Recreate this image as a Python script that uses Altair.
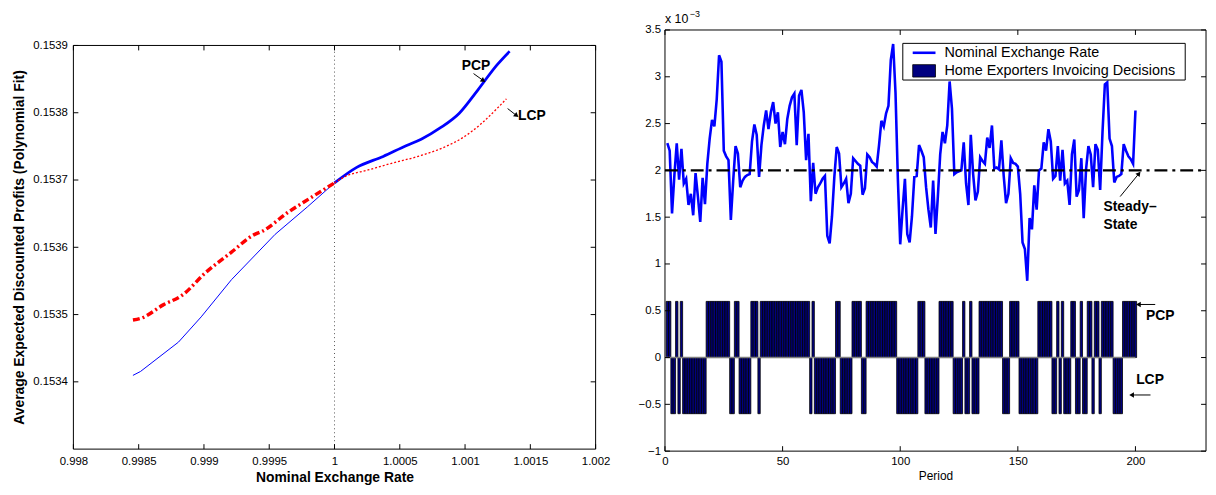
import altair as alt
import pandas as pd

FONT = "Liberation Sans"

# ---------------- Left panel data ----------------
pcp_x = [0.998456, 0.998514, 0.998805, 0.998979, 0.999211, 0.999545, 0.999792, 1.0,
         1.000170, 1.000373, 1.000548, 1.000664, 1.000809, 1.000954, 1.001099, 1.001245, 1.001341]
pcp_y = [0.1534096, 0.1534154, 0.1534591, 0.1534966, 0.1535519, 0.1536192, 0.1536600, 0.1536957,
         0.1537188, 0.1537351, 0.1537510, 0.1537606, 0.1537774, 0.1537990, 0.1538341, 0.1538712, 0.1538913]
lcp_x = [0.998456, 0.998514, 0.998688, 0.998834, 0.999008, 0.999211, 0.999385, 0.999444, 0.999647, 0.999821,
         1.0, 1.000083, 1.000257, 1.000431, 1.000664, 1.000838, 1.000983, 1.001129, 1.001245, 1.001317]
lcp_y = [0.1534918, 0.1534942, 0.1535144, 0.1535288, 0.1535615, 0.1535928, 0.1536188, 0.1536236, 0.1536524,
         0.1536740, 0.1536957, 0.1537053, 0.1537149, 0.1537245, 0.1537365, 0.1537486, 0.1537630, 0.1537846,
         0.1538063, 0.1538207]
lx_ticks = [0.998, 0.9985, 0.999, 0.9995, 1.0, 1.0005, 1.001, 1.0015, 1.002]
ly_ticks = [0.1534, 0.1535, 0.1536, 0.1537, 0.1538, 0.1539]
ly_frame = [0.1533, 0.1539]
parity_rate = 1.0
left_labels = ["PCP", "LCP"]
left_label_x = [1.000975, 1.001405]
left_label_y = [0.1538687, 0.1537957]
left_arrow_x0 = [1.001065, 1.001326]
left_arrow_y0 = [0.1538582, 0.1538062]
left_arrow_x1 = [1.001135, 1.001390]
left_arrow_y1 = [0.1538485, 0.1537965]
left_arrow_angle = [125, 128]

# ---------------- Right panel data ----------------
exchange_rate = [
    2.29, 2.21, 1.54, 1.95, 2.29, 1.90, 2.23, 1.86, 1.91, 1.63,
    1.75, 1.52, 1.97, 1.72, 1.45, 1.92, 1.64, 2.07, 2.34, 2.54,
    2.47, 2.76, 3.23, 3.16, 2.21, 2.15, 2.11, 1.47, 1.89, 2.26,
    2.18, 1.82, 1.89, 1.93, 1.95, 1.96, 2.31, 2.49, 2.38, 1.93,
    2.27, 2.48, 2.64, 2.44, 2.62, 2.73, 2.50, 2.62, 2.25, 2.41,
    2.28, 2.55, 2.69, 2.78, 2.82, 2.27, 2.80, 2.86, 2.62, 2.11,
    2.39, 1.67, 2.08, 1.75, 1.82, 1.86, 1.91, 1.94, 1.30, 1.22,
    1.51, 1.93, 2.25, 2.18, 1.82, 1.86, 1.91, 1.65, 1.75, 2.13,
    2.10, 2.07, 2.05, 1.74, 1.81, 2.17, 2.14, 2.09, 2.07, 2.04,
    2.27, 2.53, 2.47, 2.61, 2.69, 3.18, 3.35, 2.83, 1.91, 1.21,
    1.58, 1.91, 1.32, 1.23, 1.51, 1.93, 1.94, 2.27, 2.21, 2.14,
    1.82, 1.58, 1.39, 1.89, 1.32, 1.72, 2.17, 2.41, 2.29, 2.48,
    2.95, 2.66, 1.96, 1.98, 1.99, 2.00, 2.30, 1.86, 1.63, 2.38,
    1.96, 1.68, 1.77, 2.14, 2.10, 2.07, 2.35, 2.24, 2.48, 2.02,
    2.03, 2.01, 2.32, 1.94, 1.65, 1.75, 2.13, 2.08, 2.07, 2.04,
    1.75, 1.23, 1.16, 0.82, 1.49, 1.37, 1.84, 1.58, 2.00, 2.02,
    2.30, 2.21, 2.44, 2.31, 1.91, 1.94, 2.26, 1.89, 2.22, 1.86,
    1.89, 1.63, 2.17, 2.33, 1.72, 1.79, 2.13, 1.49, 2.01, 2.26,
    2.17, 1.82, 2.28, 2.22, 1.79, 2.41, 2.92, 2.94, 2.34, 2.26,
    1.87, 1.93, 1.94, 1.96, 2.28, 2.21, 2.15, 2.12, 2.07, 2.64,
]
# P = producer currency pricing (PCP), L = local currency pricing (LCP), periods 1..200
invoicing = (
    "PPLLPLPLLL" "LLLLLLLPPP" "PPPPPPPLLP" "PLLLLLPPPL" "PPPPPPPPPP"
    "PPPPPPPPPP" "PLPLLLLLLL" "LLPPLLLLLP" "PPPLLPPPPP" "PPPPPPPPLL"
    "LLLLLLLPPP" "LLLLLLPPPP" "PPLLLLPLLP" "LLLPPPPPPP" "PPPLLLPPPP"
    "LLLLLLLLPP" "PPPPLLPLPL" "LLPPLLPLLP" "PLPPLPPPPP" "LLLLPPPPPP"
)
bar_height = {"P": 0.6, "L": -0.6}
periods = list(range(1, len(exchange_rate) + 1))
steady_state = 2.0
rx_ticks = [0, 50, 100, 150, 200]
rx_frame = [0, 230]
ry_ticks = [-1, -0.5, 0, 0.5, 1, 1.5, 2, 2.5, 3, 3.5]
right_labels = ["Steady\u2013", "State", "PCP", "LCP"]
right_label_x = [186.4, 186.4, 204.5, 200.3]
right_label_y = [1.61, 1.42, 0.44, -0.24]
right_arrow_x0 = [193.5, 208.4, 206.4]
right_arrow_y0 = [1.72, 0.567, -0.40]
right_arrow_x1 = [201.3, 201.6, 198.7]
right_arrow_y1 = [1.96, 0.567, -0.40]
right_arrow_angle = [39, 270, 270]
legend_labels = ["Nominal Exchange Rate", "Home Exporters Invoicing Decisions"]

W1, W2, H = 527, 546, 425

# ================= LEFT PANEL =================
lx = alt.Scale(domain=[0.998, 1.002], nice=False, zero=False)
ly = alt.Scale(domain=[0.153297, 0.153923], nice=False, zero=False)
tlx = 5 / W1 * 0.004
tly = 5 / H * (0.153923 - 0.153297)

ax_lx = alt.Axis(values=lx_ticks, labelExpr="format(datum.value, '.5~g')",
                 title="Nominal Exchange Rate", domain=False, ticks=False, grid=False,
                 labelFlush=False, labelOverlap=False, labelFontSize=11.5, labelPadding=4,
                 labelColor="black", titleColor="black", titleFontSize=14,
                 titleFontWeight="bold", titlePadding=4, labelFont=FONT, titleFont=FONT)
ax_ly = alt.Axis(values=ly_ticks, labelExpr="format(datum.value, '.4f')",
                 title="Average Expected Discounted Profits (Polynomial Fit)",
                 domain=False, ticks=False, grid=False, labelOverlap=False,
                 labelFontSize=11.5, labelPadding=6, labelColor="black", titleColor="black",
                 titleFontSize=14, titleFontWeight="bold", titlePadding=6, titleY=219,
                 labelFont=FONT, titleFont=FONT)


def LX(f):
    return alt.X(f, scale=lx, axis=ax_lx)


def LY(f):
    return alt.Y(f, scale=ly, axis=ax_ly)


frame_l = alt.Chart(pd.DataFrame({"x": [lx_ticks[0]], "x2": [lx_ticks[-1]],
                                  "y": [ly_frame[0]], "y2": [ly_frame[1]]})).mark_rect(
    filled=False, stroke="black", strokeWidth=1).encode(
    x=LX("x:Q"), x2="x2:Q", y=LY("y:Q"), y2="y2:Q")

ticks_l_rows = []
for v in lx_ticks:
    ticks_l_rows.append({"x": v, "x2": v, "y": ly_frame[0], "y2": ly_frame[0] + tly})
    ticks_l_rows.append({"x": v, "x2": v, "y": ly_frame[1], "y2": ly_frame[1] - tly})
for v in ly_ticks:
    ticks_l_rows.append({"x": lx_ticks[0], "x2": lx_ticks[0] + tlx, "y": v, "y2": v})
    ticks_l_rows.append({"x": lx_ticks[-1], "x2": lx_ticks[-1] - tlx, "y": v, "y2": v})
ticks_l = alt.Chart(pd.DataFrame(ticks_l_rows)).mark_rule(color="black", strokeWidth=1).encode(
    x=LX("x:Q"), x2="x2:Q", y=LY("y:Q"), y2="y2:Q")

parity = alt.Chart(pd.DataFrame({"x": [parity_rate], "y": [ly_frame[0]], "y2": [ly_frame[1]]})).mark_rule(
    color="#555555", strokeWidth=1, strokeDash=[1, 3]).encode(
    x=LX("x:Q"), y=LY("y:Q"), y2="y2:Q")

pcp_df = pd.DataFrame({"x": pcp_x, "y": pcp_y})
lcp_df = pd.DataFrame({"x": lcp_x, "y": lcp_y})


def curve(df, cond, **style):
    return alt.Chart(df).transform_filter(cond).mark_line(**style).encode(
        x=LX("x:Q"), y=LY("y:Q"))


blue_thin = curve(pcp_df, "datum.x <= 1", color="#0000ff", strokeWidth=1)
blue_thick = curve(pcp_df, "datum.x >= 1", color="#0000ff", strokeWidth=2.8, interpolate="monotone")
red_thick = curve(lcp_df, "datum.x <= 1", color="#ff0000", strokeWidth=3.5, strokeDash=[7, 3, 2, 3],
                  interpolate="monotone")
red_thin = curve(lcp_df, "datum.x >= 1", color="#ff0000", strokeWidth=1.3, strokeDash=[2, 2],
                 interpolate="monotone")

l_text = alt.Chart(pd.DataFrame({"t": left_labels, "x": left_label_x, "y": left_label_y})).mark_text(
    font=FONT, fontSize=14, fontWeight="bold", align="left", baseline="middle", color="black").encode(
    x=LX("x:Q"), y=LY("y:Q"), text="t:N")
l_arr_df = pd.DataFrame({"x": left_arrow_x0, "y": left_arrow_y0, "x2": left_arrow_x1,
                         "y2": left_arrow_y1, "a": left_arrow_angle})
l_arr = alt.Chart(l_arr_df).mark_rule(color="black", strokeWidth=1).encode(
    x=LX("x:Q"), y=LY("y:Q"), x2="x2:Q", y2="y2:Q")
l_head = alt.Chart(l_arr_df).mark_point(shape="triangle", filled=True, size=30, color="black",
                                        opacity=1).encode(
    x=LX("x2:Q"), y=LY("y2:Q"), angle=alt.Angle("a:Q", scale=None))

left = alt.layer(frame_l, parity, blue_thin, blue_thick, red_thick, red_thin, ticks_l,
                 l_arr, l_head, l_text).properties(width=W1, height=H)

# ================= RIGHT PANEL =================
rx = alt.Scale(domain=rx_frame, nice=False, zero=False)
ry = alt.Scale(domain=[ry_ticks[0], ry_ticks[-1]], nice=False, zero=False)
trx = 5 / W2 * (rx_frame[1] - rx_frame[0])
try_ = 5 / H * (ry_ticks[-1] - ry_ticks[0])

ax_rx = alt.Axis(values=rx_ticks, format="d", title="Period", domain=False, ticks=False,
                 grid=False, labelFlush=False, labelOverlap=False, labelFontSize=11.5,
                 labelPadding=4, labelColor="black", titleColor="black", titleFontSize=12,
                 titleFontWeight="normal", titlePadding=4, labelFont=FONT, titleFont=FONT)
ax_ry = alt.Axis(values=ry_ticks, labelExpr="format(datum.value, '~g')", title="",
                 domain=False, ticks=False, grid=False, labelOverlap=False, labelFontSize=11.5,
                 labelPadding=4.5, labelColor="black", labelFont=FONT)


def RX(f):
    return alt.X(f, scale=rx, axis=ax_rx)


def RY(f):
    return alt.Y(f, scale=ry, axis=ax_ry)


frame_r = alt.Chart(pd.DataFrame({"x": [rx_frame[0]], "x2": [rx_frame[1]],
                                  "y": [ry_ticks[0]], "y2": [ry_ticks[-1]]})).mark_rect(
    filled=False, stroke="black", strokeWidth=1).encode(
    x=RX("x:Q"), x2="x2:Q", y=RY("y:Q"), y2="y2:Q")

ticks_r_rows = []
for v in rx_ticks:
    ticks_r_rows.append({"x": v, "x2": v, "y": ry_ticks[0], "y2": ry_ticks[0] + try_})
    ticks_r_rows.append({"x": v, "x2": v, "y": ry_ticks[-1], "y2": ry_ticks[-1] - try_})
for v in ry_ticks:
    ticks_r_rows.append({"x": rx_frame[0], "x2": rx_frame[0] + trx, "y": v, "y2": v})
    ticks_r_rows.append({"x": rx_frame[1], "x2": rx_frame[1] - trx, "y": v, "y2": v})
ticks_r = alt.Chart(pd.DataFrame(ticks_r_rows)).mark_rule(color="black", strokeWidth=1).encode(
    x=RX("x:Q"), x2="x2:Q", y=RY("y:Q"), y2="y2:Q")

bars_df = pd.DataFrame({"period": periods,
                        "v": [bar_height[c] for c in invoicing]})
bars = alt.Chart(bars_df).transform_calculate(
    x0="datum.period - 0.5", x1="datum.period + 0.5").mark_rect(
    fill="#000080", stroke="black", strokeWidth=0.8).encode(
    x=RX("x0:Q"), x2="x1:Q", y=RY("v:Q"), y2=alt.datum(0))

baseline = alt.Chart(pd.DataFrame({"x": [rx_frame[0]], "x2": [periods[-1]], "y": [0]})).mark_rule(
    color="#7f7f7f", strokeWidth=1.5).encode(
    x=RX("x:Q"), x2="x2:Q", y=RY("y:Q"))

line_df = pd.DataFrame({"period": periods, "rate": exchange_rate})
rate_line = alt.Chart(line_df).mark_line(color="#0000ff", strokeWidth=2.6).encode(
    x=RX("period:Q"), y=RY("rate:Q"))

ss = alt.Chart(pd.DataFrame({"x": [rx_frame[0]], "x2": [rx_frame[1]], "y": [steady_state]})).mark_rule(
    color="black", strokeWidth=2.5, strokeDash=[13, 5, 3, 5]).encode(
    x=RX("x:Q"), x2="x2:Q", y=RY("y:Q"))

r_text = alt.Chart(pd.DataFrame({"t": right_labels, "x": right_label_x, "y": right_label_y})).mark_text(
    font=FONT, fontSize=14, fontWeight="bold", align="left", baseline="middle", color="black").encode(
    x=RX("x:Q"), y=RY("y:Q"), text="t:N")
r_arr_df = pd.DataFrame({"x": right_arrow_x0, "y": right_arrow_y0, "x2": right_arrow_x1,
                         "y2": right_arrow_y1, "a": right_arrow_angle})
r_arr = alt.Chart(r_arr_df).mark_rule(color="black", strokeWidth=1).encode(
    x=RX("x:Q"), y=RY("y:Q"), x2="x2:Q", y2="y2:Q")
r_head = alt.Chart(r_arr_df).mark_point(shape="triangle", filled=True, size=30, color="black",
                                        opacity=1).encode(
    x=RX("x2:Q"), y=RY("y2:Q"), angle=alt.Angle("a:Q", scale=None))

# exponent label "x 10^-3"
exp_base = alt.Chart(pd.DataFrame({"t": ["x 10"]})).mark_text(
    font=FONT, fontSize=12.5, align="left", baseline="middle", color="black").encode(
    x=alt.value(0), y=alt.value(-11), text="t:N")
exp_sup = alt.Chart(pd.DataFrame({"t": ["\u22123"]})).mark_text(
    font=FONT, fontSize=9, align="left", baseline="middle", color="black").encode(
    x=alt.value(25), y=alt.value(-16), text="t:N")

# legend box
leg_box = alt.Chart(pd.DataFrame({"k": [0]})).mark_rect(fill="white", stroke="black", strokeWidth=1).encode(
    x=alt.value(240), x2=alt.value(525), y=alt.value(13.5), y2=alt.value(50.5))
leg_line = alt.Chart(pd.DataFrame({"k": [0]})).mark_rule(color="#0000ff", strokeWidth=2.6).encode(
    x=alt.value(250), x2=alt.value(273), y=alt.value(23))
leg_rect = alt.Chart(pd.DataFrame({"k": [0]})).mark_rect(fill="#000080", stroke="black", strokeWidth=0.8).encode(
    x=alt.value(250), x2=alt.value(273), y=alt.value(35), y2=alt.value(47.5))
leg_t1 = alt.Chart(pd.DataFrame({"t": [legend_labels[0]]})).mark_text(
    font=FONT, fontSize=14.5, align="left", baseline="middle", color="black").encode(
    x=alt.value(282), y=alt.value(23.5), text="t:N")
leg_t2 = alt.Chart(pd.DataFrame({"t": [legend_labels[1]]})).mark_text(
    font=FONT, fontSize=14.5, align="left", baseline="middle", color="black").encode(
    x=alt.value(282), y=alt.value(41.5), text="t:N")

right = alt.layer(frame_r, bars, baseline, rate_line, ss, ticks_r, r_arr, r_head, r_text,
                  exp_base, exp_sup, leg_box, leg_line, leg_rect, leg_t1, leg_t2).properties(
    width=W2, height=H)

chart = alt.hconcat(left, right, spacing=27).properties(
    padding={"left": 4, "top": 0, "right": 0, "bottom": 0}, background="white"
).configure(font=FONT).configure_view(stroke=None)

chart.save("out.html", embed_options={"renderer": "svg", "actions": False})
